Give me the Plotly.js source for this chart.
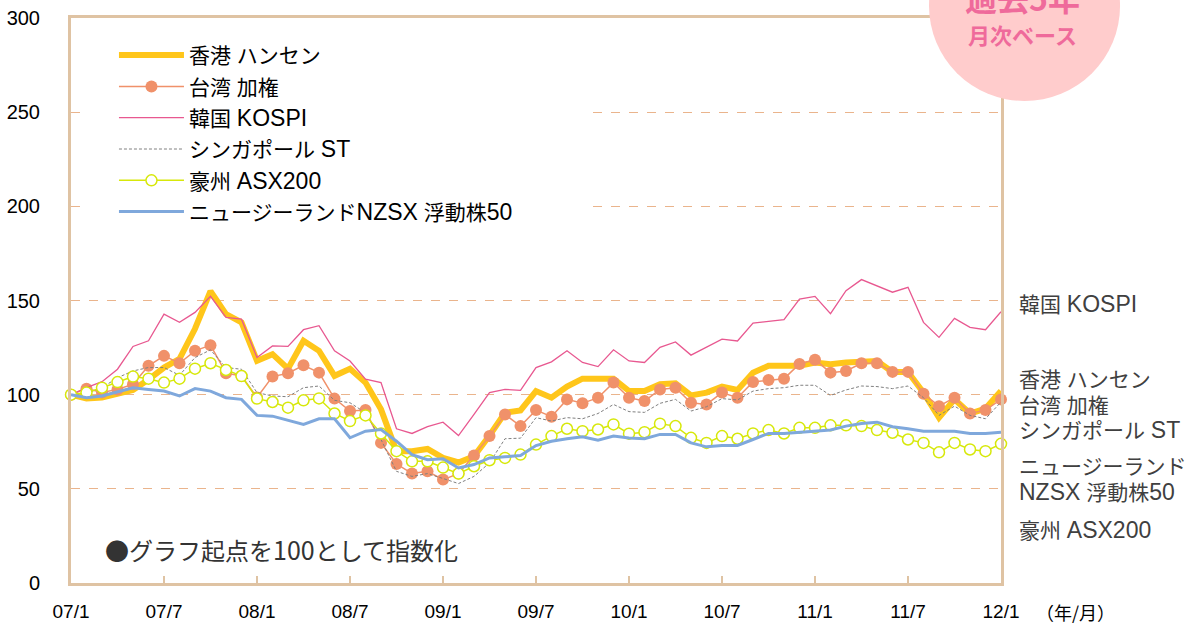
<!DOCTYPE html>
<html><head><meta charset="utf-8">
<script src="https://cdn.plot.ly/plotly-3.0.1.min.js"></script>
<style>body{margin:0;background:#fff}#chart{width:1189px;height:624px}</style>
</head><body><div id="chart"></div>
<script>
const tickLabels = ["07/1","07/7","08/1","08/7","09/1","09/7","10/1","10/7","11/1","11/7","12/1"];
const tickPos = [0,6,12,18,24,30,36,42,48,54,60];
const months = Array.from({length:61},(_,i)=>i);

const hongkong = [100,98,98.5,100.2,102.5,108,114.4,119,135,155,142.8,138.4,118,121.5,113.8,128.6,123.3,110,113.8,106.4,92.2,70,70,71.2,66.5,64,67.3,78.3,90.4,91.6,101.9,98.4,104.3,108.5,108.5,108.5,101.9,101.9,105.5,106,99.6,101.1,104.3,102.5,111.7,115.3,115.3,115.3,117.1,116.2,117.1,117.9,117.9,112.1,112.1,101.1,87.8,97.5,90,92.6,101.9];
const taiwan = [100,103.2,101.1,102.8,105.5,115.3,120.6,116.7,123.3,126.3,111.4,109.9,98.5,109.6,111.4,115.6,111.7,97.9,91.3,91.8,74.4,63.2,58.1,59.3,54.9,58.1,67.7,78,89.5,83.3,91.8,88.3,97.5,95.4,98.4,106.4,98.4,96.6,102.8,103.7,95.7,94.8,101.1,98.4,106.7,107.8,108.5,116.3,118.6,111.7,112.6,116.7,116.7,112.1,112.1,100.5,93.9,98.4,90,91.8,97.5];
const korea = [100,103.7,106.9,113.5,125.6,128.6,142.8,138.4,143.7,152.2,141,140.1,119.7,125.9,125.6,134.5,136.6,123.3,117.9,108.2,106.4,81.9,79.4,83,85.4,78.3,89.5,101.1,102.8,102.3,114.4,117.4,123.3,117.1,114.9,123.8,117.9,117.1,125.1,128,121,125.1,129.5,128.5,138,138.9,139.8,150.8,152.2,143,155.2,161.1,157.9,154.4,157,138.4,130.4,140.5,135.7,134.5,144];
const singapore = [100,100.7,103.7,109,112.6,114.4,114.4,110.3,119.7,123.8,114.4,113.5,101.1,99.3,98.9,103.7,104.6,97,95.7,90.4,76.2,59.3,56.6,58.1,55.5,52.8,56.6,63.8,76.6,76.9,87.8,86,87.8,87.2,90,94.8,91,90.6,95.4,97.5,91.3,93.6,97.9,97.2,101.9,103.2,103.7,105,105,99.6,102.5,104.6,104.3,103.2,104.6,98.4,89,93.9,89,87.2,96.1];
const australia = [100,101.1,103.7,106.7,109.6,108.5,106.4,108.5,113.8,116.7,113.1,109.9,97.9,96.1,93.1,97,98,90,86,89,79.4,70,64.6,64.6,61.3,58.1,62,65.2,66.4,68.2,73.5,78,81.9,80.6,81.5,84.2,79.3,80.1,84.6,83.3,77.1,74.4,78,76.6,79.4,81.2,79.4,82.4,82.4,83.7,83.7,83.3,81.2,79.8,76.2,74.4,69.4,74.4,70.9,70,73.9];
const newzealand = [100,98.4,99.3,101.4,103.7,102.8,101.9,99.3,103.2,101.9,98.4,97.5,89,88.6,86.5,84.2,87.2,87.2,77.1,80.6,81.5,75.3,68.2,65.5,66,61.1,62.9,66.4,67,67.7,73,75.3,76.6,77.6,75.8,78,77,76.6,78.9,78.9,74.4,72.3,73,73,76.2,79.4,79.4,80,80.6,81.2,83.3,84.7,85.4,83,81.9,80.6,80.6,80.6,79.4,79.4,80.1];

const names = ["香港 ハンセン","台湾 加権","韓国 KOSPI","シンガポール ST","豪州 ASX200","ニュージーランドNZSX 浮動株50"];
const rightLabels = [["韓国 KOSPI",148.2],["香港 ハンセン",107.8],["台湾 加権",94],["シンガポール ST",81.3],["ニュージーランド",61.6],["NZSX 浮動株50",48.3],["豪州 ASX200",28.1]];
const noteText = "●グラフ起点を100として指数化";

const FONT = "'Liberation Sans', Arial, 'Noto Sans CJK JP', sans-serif";
const CJKFONT = "'Noto Sans CJK JP', 'Liberation Sans', sans-serif";
const TAN = '#dfc3a3';
// enlarge Latin runs slightly relative to CJK, as in the reference typeface
const latin = (s, px) => s.replace(/[!-~][ -~]*[!-~]|[!-~]/g, m => `<span style="font-size:${px}px">${m}</span>`);

const traces = [
  {y:hongkong, name:names[0], mode:'lines', line:{color:'#ffc61a', width:6}},
  {y:taiwan, name:names[1], mode:'lines+markers', line:{color:'#f0916a', width:1.5}, marker:{size:12, color:'#f0916a'}},
  {y:korea, name:names[2], mode:'lines', line:{color:'#e85890', width:1.3}},
  {y:singapore, name:names[3], mode:'lines', line:{color:'#808080', width:1, dash:'3px,2px'}},
  {y:australia, name:names[4], mode:'lines+markers', line:{color:'#d7e80a', width:1.5}, marker:{size:11, color:'#ffffff', line:{color:'#d7e80a', width:1.5}}},
  {y:newzealand, name:names[5], mode:'lines', line:{color:'#7fa8dc', width:3}}
].map((t,k)=>Object.assign(t,{x:months, type:'scatter', cliponaxis:false, legendgroup:'g'+k, hoverinfo:'skip', name:latin(t.name, 23)}));

const annotations = rightLabels.map(([t,v])=>({text:latin(t, 23), xref:'paper', yref:'y', x:1.0172, y:v, xanchor:'left', yanchor:'middle', showarrow:false, font:{family:FONT, size:21, color:'#404040'}}));
annotations.push(
  {text:latin(noteText, 25), xref:'paper', yref:'paper', x:0.0344, y:0.0602, xanchor:'left', yanchor:'middle', showarrow:false, font:{family:CJKFONT, size:24, color:'#333333'}},
  {text:'（年/月）', xref:'paper', yref:'paper', x:1.0796, y:-0.0513, xanchor:'center', yanchor:'middle', showarrow:false, font:{family:CJKFONT, size:18, color:'#000000'}},
  {text:'<b>過去5年</b>', xref:'paper', yref:'paper', x:1.0226, y:1.037, xanchor:'center', yanchor:'middle', showarrow:false, font:{family:CJKFONT, size:32, color:'#ef6a9b'}},
  {text:'<b>月次ベース</b>', xref:'paper', yref:'paper', x:1.0226, y:0.9716, xanchor:'center', yanchor:'middle', showarrow:false, font:{family:CJKFONT, size:22, color:'#ef6a9b'}}
);

const layout = {
  width:1189, height:624,
  margin:{l:71, r:188, t:18, b:41},
  paper_bgcolor:'#ffffff', plot_bgcolor:'#ffffff',
  font:{family:FONT, color:'#000'},
  showlegend:true,
  legend:{x:0.0462, y:0.97, xanchor:'left', yanchor:'top', bgcolor:'rgba(255,255,255,0)', borderwidth:0,
          font:{family:FONT, size:21, color:'#000'}, itemwidth:65, tracegroupgap:1, traceorder:'grouped'},
  xaxis:{range:[0,60], tickvals:tickPos, ticktext:tickLabels, ticks:'inside', ticklen:7, tickcolor:TAN, tickwidth:1.5,
         showline:true, linecolor:TAN, linewidth:3, mirror:true, showgrid:false, zeroline:false,
         tickfont:{family:FONT, size:19, color:'#000'}, ticklabelstandoff:9, fixedrange:true},
  yaxis:{range:[0,300], tickvals:[0,50,100,150,200,250,300], ticks:'', showline:true, linecolor:TAN, linewidth:3, mirror:true,
         showgrid:true, gridcolor:'#eab48c', griddash:'dash', gridwidth:1, zeroline:false,
         tickfont:{family:FONT, size:20, color:'#000'}, ticklabelstandoff:24, fixedrange:true},
  shapes:[
    {type:'rect', xref:'paper', yref:'paper', x0:0.0161, x1:0.5527, y0:0.6248, y1:0.979, fillcolor:'#ffffff', line:{width:0}, layer:'above'},
    {type:'circle', xref:'paper', yref:'paper', x0:0.9226, x1:1.1280, y0:0.8531, y1:1.1894, fillcolor:'#ffcccc', line:{width:0}, layer:'above'}
  ],
  annotations:annotations
};
Plotly.newPlot('chart', traces, layout, {displayModeBar:false, staticPlot:true});
</script></body></html>
